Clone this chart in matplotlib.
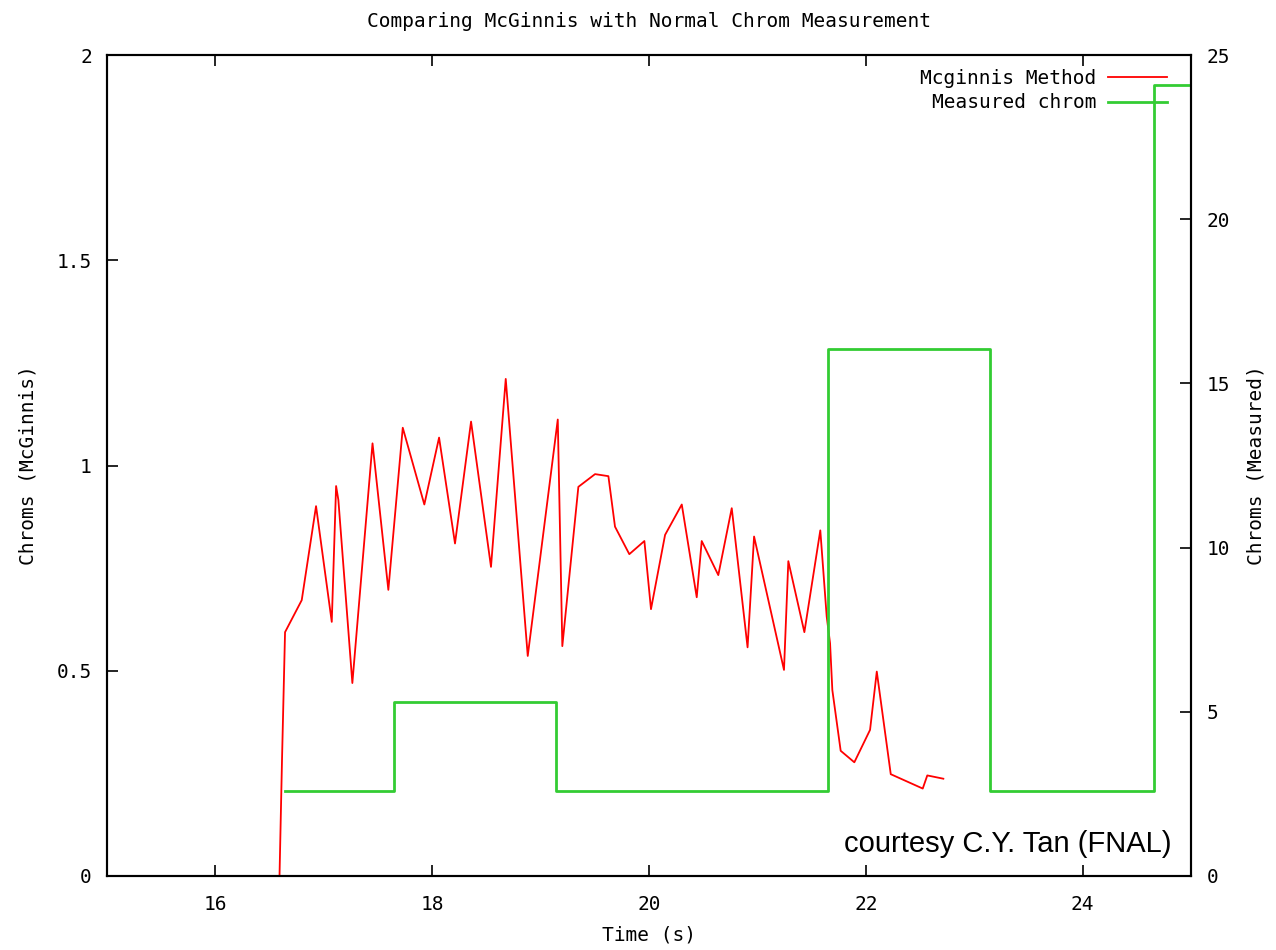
import numpy as np
import matplotlib
matplotlib.use('Agg')
from matplotlib import pyplot as plt

# McGinnis method (left axis)
t_mcg = [16.591, 16.614, 16.642, 16.796, 16.928, 17.073, 17.113, 17.134, 17.263,
         17.449, 17.595, 17.728, 17.927, 18.063, 18.210, 18.358, 18.542, 18.678,
         18.881, 19.158, 19.200, 19.348, 19.502, 19.625, 19.686, 19.818, 19.957,
         20.018, 20.148, 20.302, 20.440, 20.486, 20.639, 20.763, 20.909, 20.969,
         21.245, 21.285, 21.433, 21.580, 21.639, 21.670, 21.691, 21.768, 21.894,
         22.039, 22.101, 22.230, 22.525, 22.567, 22.715]
c_mcg = [0.0, 0.283, 0.594, 0.672, 0.901, 0.619, 0.950, 0.916, 0.470,
         1.054, 0.697, 1.092, 0.905, 1.068, 0.810, 1.107, 0.753, 1.211,
         0.536, 1.112, 0.560, 0.948, 0.979, 0.974, 0.851, 0.784, 0.816,
         0.650, 0.831, 0.905, 0.679, 0.816, 0.733, 0.896, 0.557, 0.827,
         0.502, 0.767, 0.594, 0.842, 0.632, 0.567, 0.453, 0.305, 0.277,
         0.356, 0.498, 0.248, 0.213, 0.245, 0.237]

# measured chrom (right axis), step
t_meas = [16.645, 17.65, 19.142, 21.654, 23.146, 24.659, 25.0]
c_meas = [2.6, 5.3, 2.6, 16.05, 2.6, 24.1, 24.1]

mono = 'DejaVu Sans Mono'
fs = 14

fig = plt.figure(figsize=(12.76, 9.5), dpi=100)
ax = fig.add_axes([0.0839, 0.0779, 0.8495, 0.8642])
ax2 = ax.twinx()

l1, = ax.plot(t_mcg, c_mcg, color='#ff0000', lw=1.3, label='Mcginnis Method')
l2, = ax2.step(t_meas, c_meas, where='post', color='#33cc33', lw=2, label='Measured chrom')

ax.set_xlim(15, 25)
ax.set_ylim(0, 2)
ax2.set_ylim(0, 25)
ax.set_xticks([16, 18, 20, 22, 24])
ax.set_yticks([0, 0.5, 1, 1.5, 2])
ax.set_yticklabels(['0', '0.5', '1', '1.5', '2'])
ax2.set_yticks([0, 5, 10, 15, 20, 25])

ax.tick_params(axis='x', direction='in', length=8, width=1.2, top=True,
               pad=14, labelsize=fs)
ax.tick_params(axis='y', direction='in', length=8, width=1.2, right=False,
               pad=11, labelsize=fs)
ax2.tick_params(axis='y', direction='in', length=8, width=1.2,
                pad=11, labelsize=fs)
for a in (ax, ax2):
    for lab in a.get_xticklabels() + a.get_yticklabels():
        lab.set_family(mono)
    for s in a.spines.values():
        s.set_linewidth(1.5)

ax.set_title('Comparing McGinnis with Normal Chrom Measurement',
             family=mono, fontsize=fs, pad=20)
ax.set_xlabel('Time (s)', family=mono, fontsize=fs, labelpad=8)
ax.set_ylabel('Chroms (McGinnis)', family=mono, fontsize=fs, labelpad=14)
ax2.set_ylabel('Chroms (Measured)', family=mono, fontsize=fs, labelpad=12,
               rotation=90)

leg = ax2.legend([l1, l2], ['Mcginnis Method', 'Measured chrom'],
                 loc='upper right', bbox_to_anchor=(0.99, 1.0),
                 frameon=False, markerfirst=False,
                 prop={'family': mono, 'size': fs}, handlelength=3.0,
                 borderaxespad=0.3, labelspacing=0.3, handletextpad=0.6)

ax2.text(0.982, 0.022, 'courtesy C.Y. Tan (FNAL)', transform=ax2.transAxes,
         ha='right', va='bottom', fontsize=21, family='Liberation Sans')

fig.savefig('out.png', dpi=100)
